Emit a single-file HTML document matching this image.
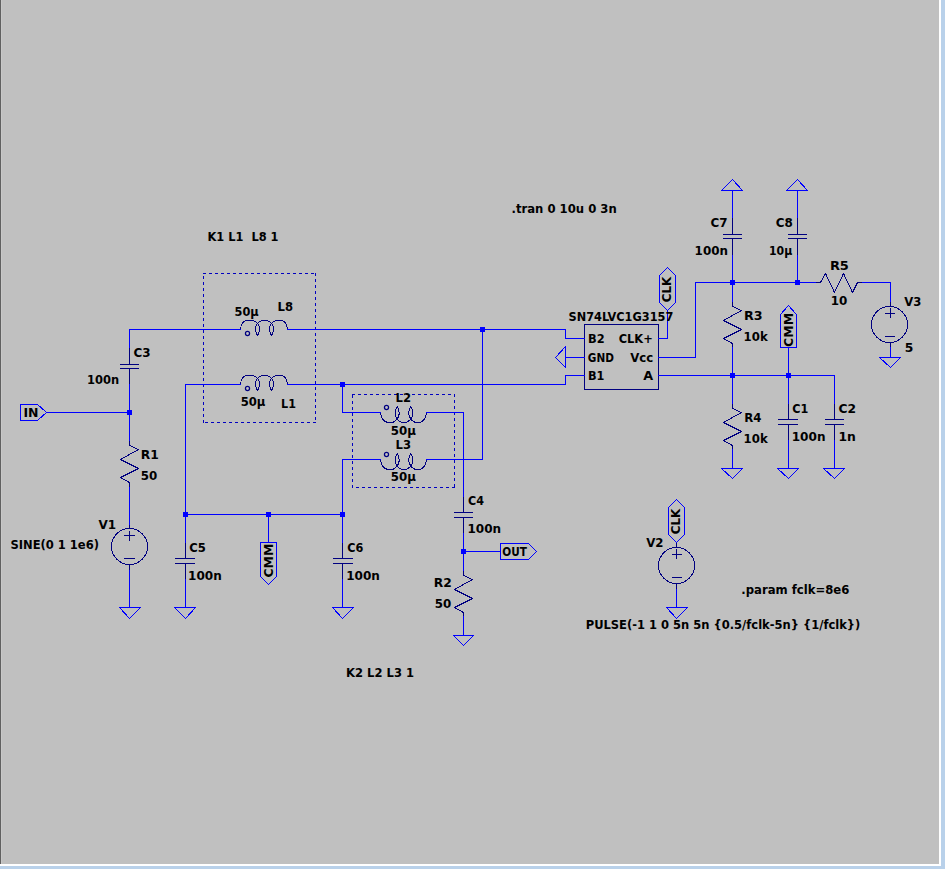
<!DOCTYPE html>
<html lang="en"><head><meta charset="utf-8"><title>LTspice schematic</title>
<style>
html,body{margin:0;padding:0;background:#c0c0c0;}
body{width:945px;height:869px;overflow:hidden;position:relative;}
#frame{position:absolute;left:0;top:0;width:945px;height:869px;background:#b9d1ea;}
#white{position:absolute;left:0;top:0;width:941px;height:866px;background:#ffffff;}
#sheet{position:absolute;left:0;top:0;width:939px;height:864px;background:#c0c0c0;}
#edge{position:absolute;left:0;top:0;width:1px;height:864px;background:#606060;}
#edge2{position:absolute;left:1px;top:0;width:1px;height:864px;background:#c8c8c8;}
svg{position:absolute;left:0;top:0;}
svg .g line,svg .g polyline,svg .g polygon,svg .g path,svg .g circle{stroke-width:1;shape-rendering:crispEdges;stroke-linecap:square;stroke-linejoin:bevel;}
svg .g circle.aa{shape-rendering:geometricPrecision;}
svg text{font-family:"DejaVu Sans","Liberation Sans",sans-serif;font-weight:bold;font-size:11.5px;fill:#000;}
</style></head><body>
<div id="frame"></div><div id="white"></div><div id="sheet"></div><div id="edge"></div><div id="edge2"></div>
<svg width="945" height="869" viewBox="0 0 945 869">
<g class="g">
<line x1="129.5" y1="347.5" x2="129.5" y2="364.5" stroke="#000080"/>
<line x1="129.5" y1="368.5" x2="129.5" y2="384.5" stroke="#000080"/>
<line x1="120.5" y1="364.5" x2="138.5" y2="364.5" stroke="#000080"/>
<line x1="120.5" y1="368.5" x2="138.5" y2="368.5" stroke="#000080"/>
<polyline points="129.5,440.5 129.5,445.5 138.5,449.5 120.5,459.5 138.5,468.5 120.5,477.5 129.5,482.5 129.5,487.5" stroke="#000080" fill="none"/>
<line x1="129.5" y1="524.5" x2="129.5" y2="528.5" stroke="#000080"/>
<line x1="129.5" y1="564.5" x2="129.5" y2="570.5" stroke="#000080"/>
<circle cx="129.5" cy="546.5" r="18" stroke="#000080" fill="none"/>
<line x1="124.5" y1="535.5" x2="134.5" y2="535.5" stroke="#000080"/>
<line x1="129.5" y1="531.5" x2="129.5" y2="540.5" stroke="#000080"/>
<line x1="124.5" y1="558.5" x2="134.5" y2="558.5" stroke="#000080"/>
<polygon points="119.5,607.5 140.5,607.5 129.5,618.5" stroke="#0000ff" fill="none"/>
<line x1="185.5" y1="542.5" x2="185.5" y2="558.5" stroke="#000080"/>
<line x1="185.5" y1="563.5" x2="185.5" y2="579.5" stroke="#000080"/>
<line x1="175.5" y1="558.5" x2="194.5" y2="558.5" stroke="#000080"/>
<line x1="175.5" y1="563.5" x2="194.5" y2="563.5" stroke="#000080"/>
<polygon points="174.5,607.5 195.5,607.5 185.5,618.5" stroke="#0000ff" fill="none"/>
<line x1="342.5" y1="542.5" x2="342.5" y2="558.5" stroke="#000080"/>
<line x1="342.5" y1="563.5" x2="342.5" y2="579.5" stroke="#000080"/>
<line x1="333.5" y1="558.5" x2="352.5" y2="558.5" stroke="#000080"/>
<line x1="333.5" y1="563.5" x2="352.5" y2="563.5" stroke="#000080"/>
<polygon points="332.5,607.5 353.5,607.5 342.5,618.5" stroke="#0000ff" fill="none"/>
<path d="M240.50,329.50 C240.80,325.00 243.00,320.50 247.50,320.50 L252.00,320.50 C254.50,320.50 256.00,321.70 257.50,323.50 C259.50,326.00 261.20,329.50 257.50,335.50 C253.80,329.50 255.50,326.00 257.50,323.50 C259.00,321.70 260.50,320.50 263.00,320.50 L266.00,320.50 C268.50,320.50 270.00,321.70 271.50,323.50 C273.50,326.00 275.20,329.50 271.50,335.50 C267.80,329.50 269.50,326.00 271.50,323.50 C273.00,321.70 274.50,320.50 276.50,320.50 L281.00,320.50 C285.00,320.50 287.20,325.00 287.50,329.50" stroke="#000080" fill="none"/>
<circle class="aa" cx="247.5" cy="333.5" r="2.05" stroke="#000080" stroke-width="1.25" style="stroke-width:1.25" fill="none"/>
<path d="M240.50,384.50 C240.80,380.00 243.00,375.50 247.50,375.50 L252.00,375.50 C254.50,375.50 256.00,376.70 257.50,378.50 C259.50,381.00 261.20,384.50 257.50,390.50 C253.80,384.50 255.50,381.00 257.50,378.50 C259.00,376.70 260.50,375.50 263.00,375.50 L266.00,375.50 C268.50,375.50 270.00,376.70 271.50,378.50 C273.50,381.00 275.20,384.50 271.50,390.50 C267.80,384.50 269.50,381.00 271.50,378.50 C273.00,376.70 274.50,375.50 276.50,375.50 L281.00,375.50 C285.00,375.50 287.20,380.00 287.50,384.50" stroke="#000080" fill="none"/>
<circle class="aa" cx="247.5" cy="388.5" r="2.05" stroke="#000080" stroke-width="1.25" style="stroke-width:1.25" fill="none"/>
<path d="M380.50,412.50 C380.79,417.80 383.73,422.50 388.82,422.50 L391.27,422.50 C393.81,422.50 395.67,421.00 397.14,419.00 C399.10,416.50 400.76,412.50 397.14,406.50 C393.52,412.50 395.18,416.50 397.14,419.00 C398.61,421.00 400.47,422.50 403.30,422.50 L404.67,422.50 C407.51,422.50 409.37,421.00 410.84,419.00 C412.80,416.50 414.46,412.50 410.84,406.50 C407.22,412.50 408.88,416.50 410.84,419.00 C412.31,421.00 414.17,422.50 416.71,422.50 L418.67,422.50 C423.27,422.50 426.21,417.80 426.50,412.50" stroke="#000080" fill="none"/>
<circle class="aa" cx="386.5" cy="407.5" r="2.05" stroke="#000080" stroke-width="1.25" style="stroke-width:1.25" fill="none"/>
<path d="M380.50,459.50 C380.79,464.80 383.73,469.50 388.82,469.50 L391.27,469.50 C393.81,469.50 395.67,468.00 397.14,466.00 C399.10,463.50 400.76,459.50 397.14,453.50 C393.52,459.50 395.18,463.50 397.14,466.00 C398.61,468.00 400.47,469.50 403.30,469.50 L404.67,469.50 C407.51,469.50 409.37,468.00 410.84,466.00 C412.80,463.50 414.46,459.50 410.84,453.50 C407.22,459.50 408.88,463.50 410.84,466.00 C412.31,468.00 414.17,469.50 416.71,469.50 L418.67,469.50 C423.27,469.50 426.21,464.80 426.50,459.50" stroke="#000080" fill="none"/>
<circle class="aa" cx="386.5" cy="454.5" r="2.05" stroke="#000080" stroke-width="1.25" style="stroke-width:1.25" fill="none"/>
<line x1="463.5" y1="496.5" x2="463.5" y2="512.5" stroke="#000080"/>
<line x1="463.5" y1="517.5" x2="463.5" y2="533.5" stroke="#000080"/>
<line x1="454.5" y1="512.5" x2="472.5" y2="512.5" stroke="#000080"/>
<line x1="454.5" y1="517.5" x2="472.5" y2="517.5" stroke="#000080"/>
<polyline points="463.5,570.5 463.5,575.5 472.5,579.5 454.5,589.5 472.5,598.5 454.5,607.5 463.5,612.5 463.5,616.5" stroke="#000080" fill="none"/>
<polygon points="453.5,635.5 473.5,635.5 463.5,645.5" stroke="#0000ff" fill="none"/>
<polygon points="565.5,346.5 565.5,367.5 555.5,357.5" stroke="#0000ff" fill="none"/>
<line x1="732.5" y1="217.5" x2="732.5" y2="234.5" stroke="#000080"/>
<line x1="732.5" y1="238.5" x2="732.5" y2="255.5" stroke="#000080"/>
<line x1="723.5" y1="234.5" x2="741.5" y2="234.5" stroke="#000080"/>
<line x1="723.5" y1="238.5" x2="741.5" y2="238.5" stroke="#000080"/>
<line x1="797.5" y1="217.5" x2="797.5" y2="234.5" stroke="#000080"/>
<line x1="797.5" y1="238.5" x2="797.5" y2="255.5" stroke="#000080"/>
<line x1="788.5" y1="234.5" x2="806.5" y2="234.5" stroke="#000080"/>
<line x1="788.5" y1="238.5" x2="806.5" y2="238.5" stroke="#000080"/>
<polygon points="721.5,190.5 742.5,190.5 732.5,179.5" stroke="#0000ff" fill="none"/>
<polygon points="786.5,190.5 807.5,190.5 797.5,179.5" stroke="#0000ff" fill="none"/>
<polyline points="732.5,301.5 732.5,306.5 741.5,310.5 723.5,320.5 741.5,329.5 723.5,338.5 732.5,343.5 732.5,347.5" stroke="#000080" fill="none"/>
<polyline points="732.5,403.5 732.5,408.5 741.5,412.5 723.5,422.5 741.5,431.5 723.5,440.5 732.5,445.5 732.5,449.5" stroke="#000080" fill="none"/>
<polygon points="721.5,468.5 742.5,468.5 732.5,478.5" stroke="#0000ff" fill="none"/>
<line x1="788.5" y1="403.5" x2="788.5" y2="419.5" stroke="#000080"/>
<line x1="788.5" y1="424.5" x2="788.5" y2="440.5" stroke="#000080"/>
<line x1="778.5" y1="419.5" x2="797.5" y2="419.5" stroke="#000080"/>
<line x1="778.5" y1="424.5" x2="797.5" y2="424.5" stroke="#000080"/>
<polygon points="777.5,468.5 798.5,468.5 788.5,478.5" stroke="#0000ff" fill="none"/>
<line x1="834.5" y1="403.5" x2="834.5" y2="419.5" stroke="#000080"/>
<line x1="834.5" y1="424.5" x2="834.5" y2="440.5" stroke="#000080"/>
<line x1="825.5" y1="419.5" x2="843.5" y2="419.5" stroke="#000080"/>
<line x1="825.5" y1="424.5" x2="843.5" y2="424.5" stroke="#000080"/>
<polygon points="823.5,468.5 844.5,468.5 834.5,478.5" stroke="#0000ff" fill="none"/>
<polyline points="815.5,282.5 820.5,282.5 825.5,273.5 834.5,292.5 843.5,273.5 852.5,292.5 857.5,282.5 862.5,282.5" stroke="#000080" fill="none"/>
<line x1="890.5" y1="301.5" x2="890.5" y2="306.5" stroke="#000080"/>
<line x1="890.5" y1="342.5" x2="890.5" y2="347.5" stroke="#000080"/>
<circle cx="889.5" cy="324.5" r="18" stroke="#000080" fill="none"/>
<line x1="885.5" y1="313.5" x2="894.5" y2="313.5" stroke="#000080"/>
<line x1="890.5" y1="308.5" x2="890.5" y2="317.5" stroke="#000080"/>
<line x1="885.5" y1="336.5" x2="894.5" y2="336.5" stroke="#000080"/>
<polygon points="879.5,357.5 900.5,357.5 890.5,367.5" stroke="#0000ff" fill="none"/>
<line x1="676.5" y1="542.5" x2="676.5" y2="547.5" stroke="#000080"/>
<line x1="676.5" y1="583.5" x2="676.5" y2="589.5" stroke="#000080"/>
<circle cx="676.5" cy="565.5" r="18" stroke="#000080" fill="none"/>
<line x1="672.5" y1="554.5" x2="681.5" y2="554.5" stroke="#000080"/>
<line x1="676.5" y1="549.5" x2="676.5" y2="558.5" stroke="#000080"/>
<line x1="672.5" y1="577.5" x2="681.5" y2="577.5" stroke="#000080"/>
<polygon points="666.5,607.5 687.5,607.5 676.5,618.5" stroke="#0000ff" fill="none"/>
<polygon points="584.5,324.5 658.5,324.5 658.5,389.5 584.5,389.5" stroke="#000080" fill="none"/>
<path d="M203,273.5 H316" stroke="#0000c0" stroke-dasharray="3 3" style="stroke-linecap:butt" fill="none"/>
<path d="M315.5,273 V423" stroke="#0000c0" stroke-dasharray="3 3" style="stroke-linecap:butt" fill="none"/>
<path d="M316,422.5 H203" stroke="#0000c0" stroke-dasharray="3 3" style="stroke-linecap:butt" fill="none"/>
<path d="M203.5,423 V273" stroke="#0000c0" stroke-dasharray="3 3" style="stroke-linecap:butt" fill="none"/>
<path d="M352,394.5 H455" stroke="#0000c0" stroke-dasharray="3 3" style="stroke-linecap:butt" fill="none"/>
<path d="M454.5,394 V488" stroke="#0000c0" stroke-dasharray="3 3" style="stroke-linecap:butt" fill="none"/>
<path d="M455,487.5 H352" stroke="#0000c0" stroke-dasharray="3 3" style="stroke-linecap:butt" fill="none"/>
<path d="M352.5,488 V394" stroke="#0000c0" stroke-dasharray="3 3" style="stroke-linecap:butt" fill="none"/>
<polygon points="46.5,412.5 37.5,404.5 20.5,404.5 20.5,420.5 37.5,420.5" stroke="#0000ff" fill="none"/>
<polygon points="500.5,543.5 528.5,543.5 536.5,551.5 528.5,559.5 500.5,559.5" stroke="#0000ff" fill="none"/>
<polygon points="667.5,310.5 659.5,302.5 659.5,275.5 667.5,267.5 675.5,275.5 675.5,302.5" stroke="#0000ff" fill="none"/>
<polygon points="676.5,542.5 668.5,534.5 668.5,507.5 676.5,499.5 684.5,507.5 684.5,534.5" stroke="#0000ff" fill="none"/>
<polygon points="260.5,542.5 276.5,542.5 276.5,576.5 268.5,584.5 260.5,576.5" stroke="#0000ff" fill="none"/>
<polygon points="780.5,347.5 796.5,347.5 796.5,314.5 788.5,305.5 780.5,314.5" stroke="#0000ff" fill="none"/>
<polyline points="129.5,347.5 129.5,329.5 240.5,329.5" stroke="#0000ff" fill="none"/>
<polyline points="287.5,329.5 565.5,329.5 565.5,338.5 584.5,338.5" stroke="#0000ff" fill="none"/>
<polyline points="482.5,329.5 482.5,459.5 426.5,459.5" stroke="#0000ff" fill="none"/>
<polyline points="380.5,459.5 342.5,459.5 342.5,514.5" stroke="#0000ff" fill="none"/>
<polyline points="129.5,384.5 129.5,440.5" stroke="#0000ff" fill="none"/>
<polyline points="46.5,412.5 129.5,412.5" stroke="#0000ff" fill="none"/>
<polyline points="129.5,487.5 129.5,524.5" stroke="#0000ff" fill="none"/>
<polyline points="129.5,570.5 129.5,607.5" stroke="#0000ff" fill="none"/>
<polyline points="240.5,384.5 185.5,384.5 185.5,542.5" stroke="#0000ff" fill="none"/>
<polyline points="287.5,384.5 565.5,384.5 565.5,375.5 584.5,375.5" stroke="#0000ff" fill="none"/>
<polyline points="185.5,514.5 342.5,514.5" stroke="#0000ff" fill="none"/>
<polyline points="185.5,579.5 185.5,607.5" stroke="#0000ff" fill="none"/>
<polyline points="268.5,514.5 268.5,542.5" stroke="#0000ff" fill="none"/>
<polyline points="342.5,514.5 342.5,542.5" stroke="#0000ff" fill="none"/>
<polyline points="342.5,579.5 342.5,607.5" stroke="#0000ff" fill="none"/>
<polyline points="342.5,384.5 342.5,412.5 380.5,412.5" stroke="#0000ff" fill="none"/>
<polyline points="426.5,412.5 463.5,412.5 463.5,496.5" stroke="#0000ff" fill="none"/>
<polyline points="463.5,533.5 463.5,570.5" stroke="#0000ff" fill="none"/>
<polyline points="463.5,551.5 500.5,551.5" stroke="#0000ff" fill="none"/>
<polyline points="463.5,616.5 463.5,635.5" stroke="#0000ff" fill="none"/>
<polyline points="584.5,357.5 565.5,357.5" stroke="#0000ff" fill="none"/>
<polyline points="658.5,338.5 667.5,338.5 667.5,310.5" stroke="#0000ff" fill="none"/>
<polyline points="658.5,357.5 695.5,357.5 695.5,282.5 815.5,282.5" stroke="#0000ff" fill="none"/>
<polyline points="862.5,282.5 890.5,282.5 890.5,301.5" stroke="#0000ff" fill="none"/>
<polyline points="890.5,347.5 890.5,357.5" stroke="#0000ff" fill="none"/>
<polyline points="732.5,190.5 732.5,217.5" stroke="#0000ff" fill="none"/>
<polyline points="732.5,255.5 732.5,301.5" stroke="#0000ff" fill="none"/>
<polyline points="797.5,190.5 797.5,217.5" stroke="#0000ff" fill="none"/>
<polyline points="797.5,255.5 797.5,282.5" stroke="#0000ff" fill="none"/>
<polyline points="732.5,347.5 732.5,403.5" stroke="#0000ff" fill="none"/>
<polyline points="732.5,449.5 732.5,468.5" stroke="#0000ff" fill="none"/>
<polyline points="658.5,375.5 834.5,375.5 834.5,403.5" stroke="#0000ff" fill="none"/>
<polyline points="788.5,347.5 788.5,403.5" stroke="#0000ff" fill="none"/>
<polyline points="788.5,440.5 788.5,468.5" stroke="#0000ff" fill="none"/>
<polyline points="834.5,440.5 834.5,468.5" stroke="#0000ff" fill="none"/>
<polyline points="676.5,589.5 676.5,607.5" stroke="#0000ff" fill="none"/>
<rect x="127" y="410" width="5" height="5" fill="#0000ff"/>
<rect x="480" y="327" width="5" height="5" fill="#0000ff"/>
<rect x="340" y="382" width="5" height="5" fill="#0000ff"/>
<rect x="183" y="512" width="5" height="5" fill="#0000ff"/>
<rect x="266" y="512" width="5" height="5" fill="#0000ff"/>
<rect x="340" y="512" width="5" height="5" fill="#0000ff"/>
<rect x="461" y="549" width="5" height="5" fill="#0000ff"/>
<rect x="730" y="280" width="5" height="5" fill="#0000ff"/>
<rect x="795" y="280" width="5" height="5" fill="#0000ff"/>
<rect x="730" y="373" width="5" height="5" fill="#0000ff"/>
<rect x="786" y="373" width="5" height="5" fill="#0000ff"/>
</g>
<g class="t">
<text x="511.5" y="213" textLength="105.2" lengthAdjust="spacingAndGlyphs">.tran 0 10u 0 3n</text>
<text x="207.5" y="241" textLength="71.0" lengthAdjust="spacingAndGlyphs">K1 L1  L8 1</text>
<text x="234.6" y="316" textLength="24.1" lengthAdjust="spacingAndGlyphs">50µ</text>
<text x="277.5" y="311" textLength="15.5" lengthAdjust="spacingAndGlyphs">L8</text>
<text x="240.7" y="406" textLength="24.7" lengthAdjust="spacingAndGlyphs">50µ</text>
<text x="281.1" y="408" textLength="14.9" lengthAdjust="spacingAndGlyphs">L1</text>
<text x="133.4" y="357" textLength="17.1" lengthAdjust="spacingAndGlyphs">C3</text>
<text x="87.0" y="384" textLength="32.1" lengthAdjust="spacingAndGlyphs">100n</text>
<text x="23.4" y="417" textLength="15.1" lengthAdjust="spacingAndGlyphs">IN</text>
<text x="140.8" y="459" textLength="18.0" lengthAdjust="spacingAndGlyphs">R1</text>
<text x="140.8" y="480" textLength="16.5" lengthAdjust="spacingAndGlyphs">50</text>
<text x="98.4" y="529" textLength="17.6" lengthAdjust="spacingAndGlyphs">V1</text>
<text x="10.4" y="549" textLength="88.6" lengthAdjust="spacingAndGlyphs">SINE(0 1 1e6)</text>
<text x="189.2" y="552" textLength="16.6" lengthAdjust="spacingAndGlyphs">C5</text>
<text x="188.1" y="580" textLength="33.7" lengthAdjust="spacingAndGlyphs">100n</text>
<text x="347.2" y="552" textLength="16.1" lengthAdjust="spacingAndGlyphs">C6</text>
<text x="346.2" y="580" textLength="33.7" lengthAdjust="spacingAndGlyphs">100n</text>
<text x="395.5" y="402" textLength="15.5" lengthAdjust="spacingAndGlyphs">L2</text>
<text x="390.8" y="435" textLength="25.1" lengthAdjust="spacingAndGlyphs">50µ</text>
<text x="395.5" y="449" textLength="15.5" lengthAdjust="spacingAndGlyphs">L3</text>
<text x="390.8" y="481" textLength="25.1" lengthAdjust="spacingAndGlyphs">50µ</text>
<text x="468.1" y="505" textLength="16.0" lengthAdjust="spacingAndGlyphs">C4</text>
<text x="467.4" y="533" textLength="33.7" lengthAdjust="spacingAndGlyphs">100n</text>
<text x="502.3" y="556" textLength="24.6" lengthAdjust="spacingAndGlyphs">OUT</text>
<text x="433.8" y="587" textLength="18.0" lengthAdjust="spacingAndGlyphs">R2</text>
<text x="434.8" y="608" textLength="16.5" lengthAdjust="spacingAndGlyphs">50</text>
<text x="346.1" y="677" textLength="67.9" lengthAdjust="spacingAndGlyphs">K2 L2 L3 1</text>
<text x="568.5" y="321" textLength="104.8" lengthAdjust="spacingAndGlyphs">SN74LVC1G3157</text>
<text x="588.0" y="343" textLength="16.6" lengthAdjust="spacingAndGlyphs">B2</text>
<text x="587.8" y="362" textLength="26.1" lengthAdjust="spacingAndGlyphs">GND</text>
<text x="588.0" y="380" textLength="16.5" lengthAdjust="spacingAndGlyphs">B1</text>
<text x="618.7" y="343" textLength="34.1" lengthAdjust="spacingAndGlyphs">CLK+</text>
<text x="630.2" y="362" textLength="23.0" lengthAdjust="spacingAndGlyphs">Vcc</text>
<text x="643.2" y="380" textLength="9.9" lengthAdjust="spacingAndGlyphs">A</text>
<text x="710.4" y="227" textLength="17.1" lengthAdjust="spacingAndGlyphs">C7</text>
<text x="694.6" y="255" textLength="33.4" lengthAdjust="spacingAndGlyphs">100n</text>
<text x="775.8" y="227" textLength="17.1" lengthAdjust="spacingAndGlyphs">C8</text>
<text x="769.0" y="255" textLength="23.2" lengthAdjust="spacingAndGlyphs">10µ</text>
<text x="829.9" y="270" textLength="19.0" lengthAdjust="spacingAndGlyphs">R5</text>
<text x="830.8" y="305" textLength="16.6" lengthAdjust="spacingAndGlyphs">10</text>
<text x="904.3" y="306" textLength="17.1" lengthAdjust="spacingAndGlyphs">V3</text>
<text x="904.8" y="352" textLength="8.6" lengthAdjust="spacingAndGlyphs">5</text>
<text x="744.0" y="320" textLength="18.6" lengthAdjust="spacingAndGlyphs">R3</text>
<text x="743.6" y="341" textLength="24.1" lengthAdjust="spacingAndGlyphs">10k</text>
<text x="744.2" y="422" textLength="17.2" lengthAdjust="spacingAndGlyphs">R4</text>
<text x="743.6" y="443" textLength="24.1" lengthAdjust="spacingAndGlyphs">10k</text>
<text x="792.3" y="413" textLength="16.1" lengthAdjust="spacingAndGlyphs">C1</text>
<text x="791.7" y="441" textLength="33.8" lengthAdjust="spacingAndGlyphs">100n</text>
<text x="838.5" y="413" textLength="17.6" lengthAdjust="spacingAndGlyphs">C2</text>
<text x="838.5" y="441" textLength="17.4" lengthAdjust="spacingAndGlyphs">1n</text>
<text x="646.2" y="547" textLength="17.3" lengthAdjust="spacingAndGlyphs">V2</text>
<text x="741.3" y="594" textLength="108.1" lengthAdjust="spacingAndGlyphs">.param fclk=8e6</text>
<text x="585.7" y="629" textLength="274.6" lengthAdjust="spacingAndGlyphs">PULSE(-1 1 0 5n 5n {0.5/fclk-5n} {1/fclk})</text>
<text x="273" y="577.5" textLength="33.7" lengthAdjust="spacingAndGlyphs" transform="rotate(-90 273 577.5)">CMM</text>
<text x="793" y="346.9" textLength="34" lengthAdjust="spacingAndGlyphs" transform="rotate(-90 793 346.9)">CMM</text>
<text x="671.5" y="302.3" textLength="25.5" lengthAdjust="spacingAndGlyphs" transform="rotate(-90 671.5 302.3)">CLK</text>
<text x="680.5" y="534.3" textLength="25.5" lengthAdjust="spacingAndGlyphs" transform="rotate(-90 680.5 534.3)">CLK</text>
</g>
</svg>
</body></html>
